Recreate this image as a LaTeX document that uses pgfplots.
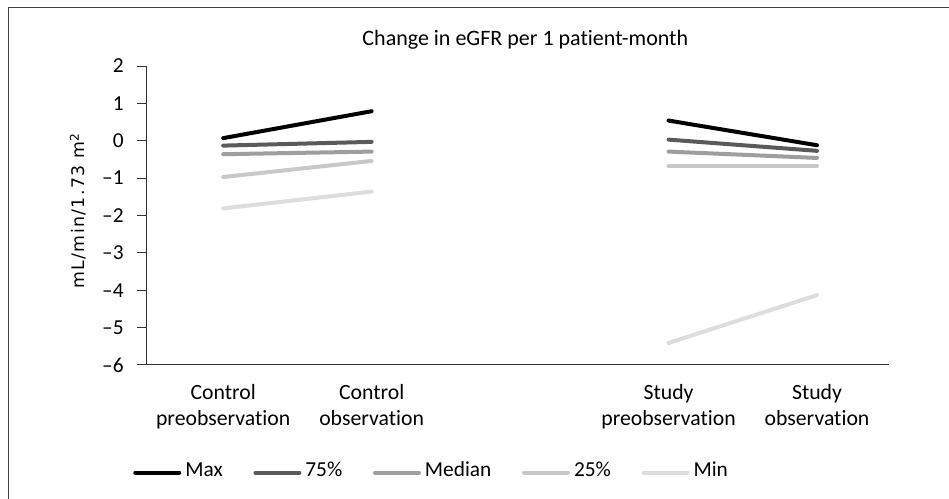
\documentclass[border=0pt]{standalone}
\usepackage{pgfplots}
\pgfplotsset{compat=1.18}
\usepackage{fontspec}
\setmainfont{Carlito}[Ligatures={NoCommon}]
\newfontfamily\dejavu{DejaVu Sans}[LetterSpace=8]
\definecolor{cMax}{HTML}{000000}
\definecolor{cQ3}{HTML}{5A5A5A}
\definecolor{cMed}{HTML}{9E9E9E}
\definecolor{cQ1}{HTML}{C8C8C8}
\definecolor{cMin}{HTML}{DDDDDD}
\begin{document}
\begin{tikzpicture}
\path[use as bounding box] (0pt,0pt) rectangle (711.75pt,374.25pt);
\draw[black!75, line width=0.75pt] (6pt,0pt) -- (6pt,368.25pt) -- (711.75pt,368.25pt);
\node[font=\fontsize{16.5}{19}\selectfont] at (394pt,344.25pt) {Change in eGFR per 1 patient-month};
\node[font=\dejavu\fontsize{13}{16}\selectfont, rotate=90] at (58.5pt,216pt) {mL/min/1.73 m\textsuperscript{2}};
\begin{axis}[
  at={(109.5pt,100.5pt)}, anchor=south west,
  width=557.25pt, height=224.25pt, scale only axis,
  xmin=0.48, xmax=5.485, ymin=-6, ymax=2,
  axis lines=left, axis line style={-, black!80, line width=0.75pt},
  tick align=outside,
  ytick={-6,-5,-4,-3,-2,-1,0,1,2},
  yticklabels={–6,–5,–4,–3,–2,–1,0,1,2},
  major tick length=6.75pt,
  ytick style={black!80, line width=0.75pt},
  xtick={1,2,4,5},
  xticklabels={{Control\\preobservation},{Control\\observation},{Study\\preobservation},{Study\\observation}},
  xtick style={draw=none},
  xticklabel style={align=center, font=\fontsize{16.3}{19.5}\selectfont, yshift=-4pt},
  yticklabel style={font=\fontsize{16}{18}\selectfont, xshift=-6.5pt},
  clip=false,
  legend columns=5,
  legend style={at={(axis description cs:-0.0175,-0.36)}, anchor=west, draw=none, fill=none,
    inner sep=0pt, font=\fontsize{16}{18}\selectfont,
    /tikz/every even column/.append style={column sep=20pt},
    nodes={inner sep=3pt, text height=1.6ex, text depth=0.3ex}},
  legend image code/.code={\draw[#1] (0pt,0pt) -- (33pt,0pt);},
  every axis plot/.append style={line width=3pt, line cap=round},
]
\addplot[cMax] coordinates {(1,0.07) (2,0.79)};
\addlegendentry{Max}
\addplot[cQ3] coordinates {(1,-0.13) (2,-0.03)};
\addlegendentry{75\%}
\addplot[cMed] coordinates {(1,-0.36) (2,-0.29)};
\addlegendentry{Median}
\addplot[cQ1] coordinates {(1,-0.97) (2,-0.54)};
\addlegendentry{25\%}
\addplot[cMin] coordinates {(1,-1.81) (2,-1.36)};
\addlegendentry{Min}
\addplot[cMin, forget plot] coordinates {(4,-5.41) (5,-4.13)};
\addplot[cQ1, forget plot] coordinates {(4,-0.67) (5,-0.67)};
\addplot[cMed, forget plot] coordinates {(4,-0.29) (5,-0.46)};
\addplot[cQ3, forget plot] coordinates {(4,0.03) (5,-0.27)};
\addplot[cMax, forget plot] coordinates {(4,0.54) (5,-0.12)};
\end{axis}
\end{tikzpicture}
\end{document}
